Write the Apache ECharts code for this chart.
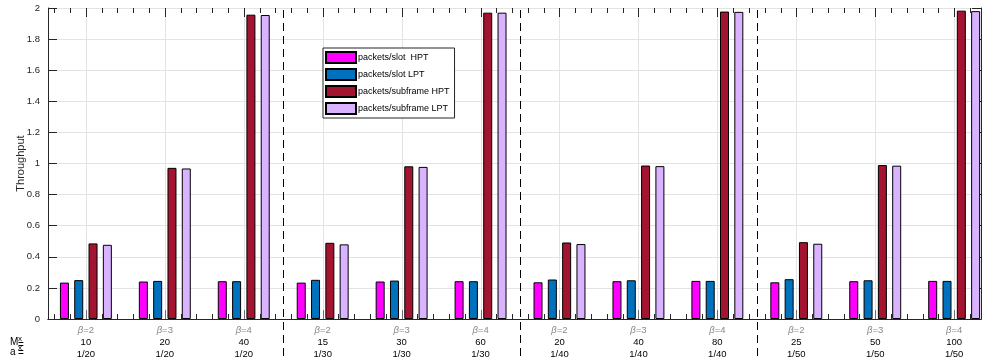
<!DOCTYPE html>
<html>
<head>
<meta charset="utf-8">
<script src="https://cdn.jsdelivr.net/npm/echarts@6/dist/echarts.min.js"></script>
<style>
  html, body { margin: 0; padding: 0; background: #fff; }
  #chart { width: 982px; height: 364px; }
</style>
</head>
<body>
<div id="chart"></div>
<script>
// Group positions along the x axis (one group per beta / M_x / a_x setting)
const groupPos = [1, 2, 3, 4, 5, 6, 7, 8, 9, 10, 11, 12];
const betaValues = ['2', '3', '4', '2', '3', '4', '2', '3', '4', '2', '3', '4'];
const mxLabels = ['10', '20', '40', '15', '30', '60', '20', '40', '80', '25', '50', '100'];
const axLabels = ['1/20', '1/20', '1/20', '1/30', '1/30', '1/30', '1/40', '1/40', '1/40', '1/50', '1/50', '1/50'];

// Throughput per group
const slotHPT     = [0.234, 0.241, 0.243, 0.234, 0.241, 0.243, 0.236, 0.243, 0.245, 0.236, 0.243, 0.245];
const slotLPT     = [0.250, 0.245, 0.243, 0.252, 0.247, 0.243, 0.254, 0.249, 0.245, 0.256, 0.249, 0.245];
const subframeHPT = [0.486, 0.972, 1.957, 0.490, 0.982, 1.970, 0.492, 0.987, 1.977, 0.494, 0.990, 1.983];
const subframeLPT = [0.477, 0.968, 1.955, 0.480, 0.978, 1.970, 0.482, 0.983, 1.975, 0.484, 0.986, 1.980];

// Dashed separators between the a_x blocks
const separatorPos = [3.5, 6.5, 9.5];

const seriesNames = ['packets/slot  HPT', 'packets/slot LPT', 'packets/subframe HPT', 'packets/subframe LPT'];
const seriesColors = ['#ff00ff', '#0072bd', '#a2142f', '#d9b3ff'];

const X_MIN = 0.52, X_MAX = 12.34;
const Y_MIN = 0, Y_MAX = 2;
const AXIS_COLOR = '#262626';
const GRID_COLOR = '#e3e3e3';
const FONT = '"Liberation Sans", Arial, Helvetica, sans-serif';

// Minor tick positions every 0.2 between the group positions
const minorTicks = [];
for (let k = Math.ceil(X_MIN * 5); k <= Math.floor(X_MAX * 5); k++) {
  if (k % 5 !== 0) minorTicks.push(k / 5);
}

const crisp = v => Math.round(v) + 0.5;

function barSeries(name, values, color) {
  return {
    name: name,
    type: 'bar',
    xAxisIndex: 0,
    yAxisIndex: 0,
    barWidth: 9,
    barGap: '59%',
    itemStyle: { color: color, borderColor: '#000', borderWidth: 1 },
    emphasis: { disabled: true },
    data: groupPos.map((x, i) => [x, values[i]]),
    z: 2
  };
}

const chart = echarts.init(document.getElementById('chart'), null, { renderer: 'canvas' });

const option = {
  animation: false,
  textStyle: { fontFamily: FONT },
  grid: { left: 48, right: 1, top: 8, bottom: 45, containLabel: false, outerBoundsMode: 'none' },
  legend: {
    orient: 'vertical',
    left: 323,
    top: 48,
    padding: [3, 5, 3, 2],
    itemWidth: 30,
    itemHeight: 11,
    itemGap: 4,
    icon: 'rect',
    backgroundColor: '#fff',
    borderColor: AXIS_COLOR,
    borderWidth: 1,
    selectedMode: false,
    textStyle: { fontSize: 9, color: '#000', fontFamily: FONT, padding: [0, 0, 0, -3] },
    data: seriesNames
  },
  xAxis: [
    {
      type: 'value', position: 'bottom', min: X_MIN, max: X_MAX,
      axisLine: { show: true, lineStyle: { color: AXIS_COLOR, width: 1 } },
      axisTick: { show: false }, axisLabel: { show: false }, splitLine: { show: false }
    },
    {
      type: 'value', position: 'top', min: X_MIN, max: X_MAX,
      axisLine: { show: true, lineStyle: { color: AXIS_COLOR, width: 1 } },
      axisTick: { show: false }, axisLabel: { show: false }, splitLine: { show: false }
    }
  ],
  yAxis: [
    {
      type: 'value', position: 'left', min: Y_MIN, max: Y_MAX, interval: 0.2,
      name: 'Throughput', nameLocation: 'middle', nameGap: 22, nameMoveOverlap: false,
      nameTextStyle: { fontSize: 11, color: AXIS_COLOR, fontFamily: FONT },
      axisLine: { show: true, lineStyle: { color: AXIS_COLOR, width: 1 } },
      axisTick: { show: true, inside: true, length: 9, lineStyle: { color: AXIS_COLOR } },
      axisLabel: { fontSize: 9.5, color: AXIS_COLOR, margin: 8, fontFamily: FONT },
      splitLine: { show: true, lineStyle: { color: GRID_COLOR, width: 1 } }
    },
    {
      type: 'value', position: 'right', min: Y_MIN, max: Y_MAX, interval: 0.2,
      axisLine: { show: true, lineStyle: { color: AXIS_COLOR, width: 1 } },
      axisTick: { show: true, inside: true, length: 9, lineStyle: { color: AXIS_COLOR } },
      axisLabel: { show: false }, splitLine: { show: false }
    }
  ],
  series: [
    // vertical grid lines, major ticks and the three-line group labels
    {
      type: 'custom',
      xAxisIndex: 0, yAxisIndex: 0,
      silent: true, clip: false, z: 1,
      data: groupPos.map((x, i) => [x, i]),
      renderItem: function (params, api) {
        const x = api.value(0);
        const i = api.value(1);
        const top = api.coord([x, Y_MAX]);
        const bot = api.coord([x, Y_MIN]);
        const px = crisp(bot[0]);
        return {
          type: 'group',
          children: [
            { type: 'line', shape: { x1: px, y1: top[1], x2: px, y2: bot[1] },
              style: { stroke: GRID_COLOR, lineWidth: 1 } },
            { type: 'line', shape: { x1: px, y1: top[1], x2: px, y2: top[1] + 9 },
              style: { stroke: AXIS_COLOR, lineWidth: 1 }, z2: 5 },
            { type: 'line', shape: { x1: px, y1: bot[1], x2: px, y2: bot[1] - 9 },
              style: { stroke: '#6e6e6e', lineWidth: 1 }, z2: 5 },
            { type: 'text', x: bot[0], y: bot[1] + 11,
              style: {
                text: '{b|β}{t|=' + betaValues[i] + '}',
                align: 'center', verticalAlign: 'middle',
                rich: {
                  b: { fontSize: 9.5, fontStyle: 'italic', fontFamily: FONT, fill: '#8a8a8a' },
                  t: { fontSize: 9.5, fontFamily: FONT, fill: '#8a8a8a' }
                }
              } },
            { type: 'text', x: bot[0], y: bot[1] + 23,
              style: { text: mxLabels[i], align: 'center', verticalAlign: 'middle',
                       fontSize: 9.5, fontFamily: FONT, fill: '#000' } },
            { type: 'text', x: bot[0], y: bot[1] + 35,
              style: { text: axLabels[i], align: 'center', verticalAlign: 'middle',
                       fontSize: 9.5, fontFamily: FONT, fill: '#000' } }
          ]
        };
      }
    },
    // minor ticks on the top and bottom edges
    {
      type: 'custom',
      xAxisIndex: 0, yAxisIndex: 0,
      silent: true, clip: false, z: 3,
      data: minorTicks.map(x => [x]),
      renderItem: function (params, api) {
        const x = api.value(0);
        const top = api.coord([x, Y_MAX]);
        const bot = api.coord([x, Y_MIN]);
        const px = crisp(bot[0]);
        return {
          type: 'group',
          children: [
            { type: 'line', shape: { x1: px, y1: top[1], x2: px, y2: top[1] + 5 },
              style: { stroke: AXIS_COLOR, lineWidth: 1 } },
            { type: 'line', shape: { x1: px, y1: bot[1], x2: px, y2: bot[1] - 5 },
              style: { stroke: AXIS_COLOR, lineWidth: 1 } }
          ]
        };
      }
    },
    barSeries(seriesNames[0], slotHPT, seriesColors[0]),
    barSeries(seriesNames[1], slotLPT, seriesColors[1]),
    barSeries(seriesNames[2], subframeHPT, seriesColors[2]),
    barSeries(seriesNames[3], subframeLPT, seriesColors[3]),
    // dashed separators, running down through the label rows
    {
      type: 'custom',
      xAxisIndex: 0, yAxisIndex: 0,
      silent: true, clip: false, z: 4,
      data: separatorPos.map(x => [x]),
      renderItem: function (params, api) {
        const x = api.value(0);
        const top = api.coord([x, Y_MAX]);
        const bot = api.coord([x, Y_MIN]);
        const px = crisp(bot[0]);
        return {
          type: 'line',
          shape: { x1: px, y1: top[1] + 2, x2: px, y2: bot[1] + 40 },
          style: { stroke: '#000', lineWidth: 1, lineDash: [8, 5] }
        };
      }
    }
  ],
  // row captions for the M_x and a_x label rows
  graphic: [
    { type: 'text', x: 10, y: 342, style: { text: 'M', fontSize: 10, fontFamily: FONT, fill: '#000', verticalAlign: 'middle' } },
    { type: 'text', x: 18, y: 339, style: { text: 'x', fontSize: 8, fontFamily: FONT, fill: '#000', verticalAlign: 'middle' } },
    { type: 'text', x: 18, y: 345, style: { text: '=', fontSize: 10, fontFamily: FONT, fill: '#000', verticalAlign: 'middle' } },
    { type: 'text', x: 10, y: 352, style: { text: 'a', fontSize: 10, fontFamily: FONT, fill: '#000', verticalAlign: 'middle' } },
    { type: 'text', x: 18, y: 347.5, style: { text: 'x', fontSize: 8, fontFamily: FONT, fill: '#000', verticalAlign: 'middle' } },
    { type: 'text', x: 18, y: 353, style: { text: '=', fontSize: 10, fontFamily: FONT, fill: '#000', verticalAlign: 'middle' } }
  ]
};

chart.setOption(option);
</script>
</body>
</html>
